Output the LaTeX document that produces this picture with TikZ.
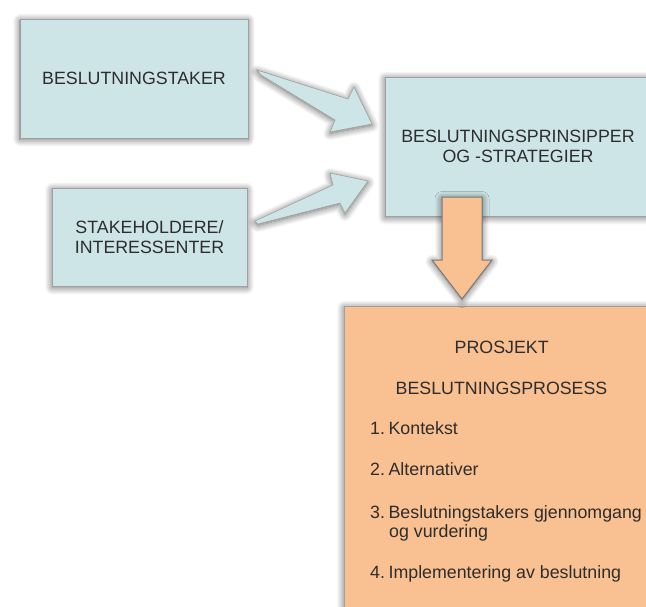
\documentclass[tikz,border=0pt]{standalone}
\usepackage{fontspec}
\setmainfont{Liberation Sans}
\usetikzlibrary{shadows.blur}
\definecolor{boxblue}{RGB}{206,229,232}
\definecolor{boxorange}{RGB}{249,192,145}
\definecolor{edgegray}{RGB}{160,160,160}
\definecolor{arrowedge}{RGB}{120,120,120}
\definecolor{txt}{RGB}{45,45,45}
\begin{document}
\begin{tikzpicture}[x=1pt,y=-1pt,
  softshadow/.style={blur shadow={shadow blur steps=10, shadow xshift=0pt,
      shadow yshift=-1.5pt, shadow blur radius=7pt, shadow opacity=60}},
  panel/.style={draw=edgegray, line width=0.8pt, inner sep=0pt, softshadow,
      text=txt, align=center, font=\fontsize{17.8}{20}\selectfont},
  bluepanel/.style={panel, fill=boxblue},
  orangepanel/.style={panel, fill=boxorange},
  bluearrow/.style={draw=edgegray, line width=0.6pt, fill=boxblue, softshadow},
  orangearrow/.style={draw=arrowedge, line width=1pt, fill=boxorange, softshadow},
  label/.style={inner sep=0pt, text=txt, font=\fontsize{17.8}{20}\selectfont},
]
\useasboundingbox (0,0) rectangle (646,606);
\clip (0,0) rectangle (646,606);

% three blue panels
\node[bluepanel, minimum width=228, minimum height=119] (taker) at (134,78.5)
  {BESLUTNINGSTAKER};
\node[bluepanel, minimum width=195, minimum height=98] (stake) at (149.5,237)
  {STAKEHOLDERE/\\INTERESSENTER};
\node[bluepanel, minimum width=266, minimum height=139] (principles) at (518,146.5)
  {BESLUTNINGSPRINSIPPER\\OG -STRATEGIER};

% orange process panel, running off the page edge
\node[orangepanel, minimum width=310, minimum height=310] (process) at (499,461) {};

% tapered arrows into the principles panel
\draw[bluearrow] (257,70) -- (348,99) -- (354,87) -- (372,124) -- (330,132)
  -- (335,120) -- (261,75) -- cycle;
\draw[bluearrow] (255,221) -- (333,185) -- (330,173) -- (368,181) -- (345,213)
  -- (340,203) -- (258,224) -- cycle;

% block arrow from principles down to the process
\draw[orangearrow] (442,197) -- (482,197) -- (482,260) -- (492,260) -- (462,299)
  -- (432,260) -- (442,260) -- cycle;

% process contents
\node[label, anchor=base] (head1) at (501.7,353) {PROSJEKT};
\node[label, anchor=base] (head2) at (501.5,394) {BESLUTNINGSPROSESS};
\node[label, anchor=base west] (step1) at (370,434) {1.\hspace{0.2em}Kontekst};
\node[label, anchor=base west] (step2) at (370,475) {2.\hspace{0.2em}Alternativer};
\node[label, anchor=base west] (step3) at (370,518) {3.\hspace{0.2em}Beslutningstakers gjennomgang};
\node[label, anchor=base west] (step3b) at (389,537) {og vurdering};
\node[label, anchor=base west] (step4) at (370,578) {4.\hspace{0.2em}Implementering av beslutning};
\end{tikzpicture}
\end{document}
